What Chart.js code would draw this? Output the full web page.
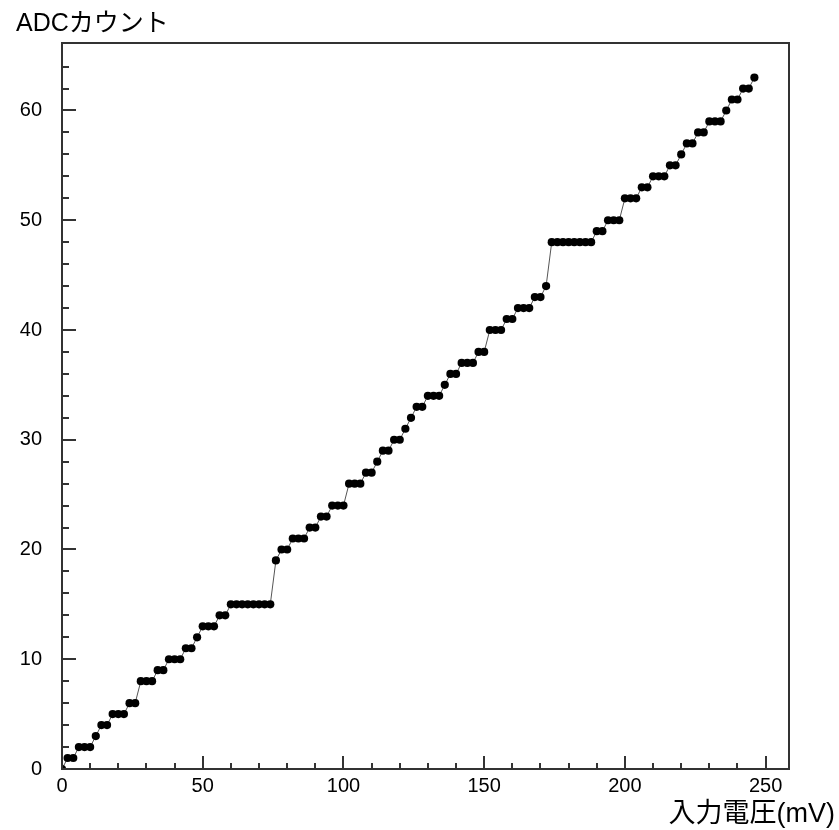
<!DOCTYPE html>
<html>
<head>
<meta charset="utf-8">
<title>ADCカウント</title>
<script src="https://cdn.jsdelivr.net/npm/chart.js@4.4.1/dist/chart.umd.min.js"></script>
<style>
    html, body { margin: 0; padding: 0; background: #fff; }
    #wrap { position: relative; width: 839px; height: 830px; }
</style>
</head>
<body>
<div id="wrap"><canvas id="adc-chart"></canvas></div>
<script>
// Input voltage (mV)
const voltages = [
    0, 2, 4, 6, 8, 10, 12, 14, 16, 18, 20, 22, 24, 26, 28, 30, 32, 34, 36, 38,
    40, 42, 44, 46, 48, 50, 52, 54, 56, 58, 60, 62, 64, 66, 68, 70, 72, 74, 76, 78,
    80, 82, 84, 86, 88, 90, 92, 94, 96, 98, 100, 102, 104, 106, 108, 110, 112, 114, 116, 118,
    120, 122, 124, 126, 128, 130, 132, 134, 136, 138, 140, 142, 144, 146, 148, 150, 152, 154, 156, 158,
    160, 162, 164, 166, 168, 170, 172, 174, 176, 178, 180, 182, 184, 186, 188, 190, 192, 194, 196, 198,
    200, 202, 204, 206, 208, 210, 212, 214, 216, 218, 220, 222, 224, 226, 228, 230, 232, 234, 236, 238,
    240, 242, 244, 246
];

// ADC count read at each voltage
const adcCounts = [
    0, 1, 1, 2, 2, 2, 3, 4, 4, 5, 5, 5, 6, 6, 8, 8, 8, 9, 9, 10,
    10, 10, 11, 11, 12, 13, 13, 13, 14, 14, 15, 15, 15, 15, 15, 15, 15, 15, 19, 20,
    20, 21, 21, 21, 22, 22, 23, 23, 24, 24, 24, 26, 26, 26, 27, 27, 28, 29, 29, 30,
    30, 31, 32, 33, 33, 34, 34, 34, 35, 36, 36, 37, 37, 37, 38, 38, 40, 40, 40, 41,
    41, 42, 42, 42, 43, 43, 44, 48, 48, 48, 48, 48, 48, 48, 48, 49, 49, 50, 50, 50,
    52, 52, 52, 53, 53, 54, 54, 54, 55, 55, 56, 57, 57, 58, 58, 59, 59, 59, 60, 61,
    61, 62, 62, 63
];

const xTickLabels = [0, 50, 100, 150, 200, 250];
const yTickLabels = [0, 10, 20, 30, 40, 50, 60];

const xRange = [0, 258.3];
const yRange = [0, 66.15];

const FONT = "'Liberation Sans', 'Noto Sans CJK JP', sans-serif";
const FRAME_COLOR = '#333';

// frame box + inward tick marks (major and minor)
const frameTicks = {
    id: 'frameTicks',
    afterDatasetsDraw(chart) {
        const { ctx, chartArea: a, scales } = chart;
        ctx.save();
        ctx.strokeStyle = FRAME_COLOR;
        ctx.lineWidth = 2;
        ctx.strokeRect(a.left, a.top, a.right - a.left, a.bottom - a.top);

        ctx.beginPath();
        for (let v = 0; v <= 250; v += 10) {
            const px = Math.round(scales.x.getPixelForValue(v));
            const len = v % 50 === 0 ? 13 : 6;
            ctx.moveTo(px, a.bottom);
            ctx.lineTo(px, a.bottom - len);
        }
        for (let v = 0; v <= 64; v += 2) {
            const py = Math.round(scales.y.getPixelForValue(v));
            const len = v % 10 === 0 ? 14 : 7;
            ctx.moveTo(a.left, py);
            ctx.lineTo(a.left + len, py);
        }
        ctx.stroke();
        ctx.restore();
    }
};

// axis captions
const axisCaptions = {
    id: 'axisCaptions',
    afterDraw(chart) {
        const ctx = chart.ctx;
        ctx.save();
        ctx.fillStyle = '#000';
        ctx.textBaseline = 'alphabetic';
        ctx.font = `25px ${FONT}`;
        ctx.textAlign = 'left';
        ctx.fillText('ADCカウント', 16, 31);
        ctx.font = `27px ${FONT}`;
        ctx.textAlign = 'right';
        ctx.fillText('入力電圧(mV)', 835, 822);
        ctx.restore();
    }
};

function init() {
    const ctx = document.getElementById('adc-chart').getContext('2d');
    new Chart(ctx, {
        type: 'scatter',
        data: {
            datasets: [{
                data: voltages.map((v, i) => ({ x: v, y: adcCounts[i] })),
                showLine: true,
                borderColor: '#555',
                borderWidth: 1,
                pointRadius: 4.1,
                pointBackgroundColor: '#000',
                pointBorderColor: '#000',
                pointBorderWidth: 0,
                clip: 0
            }]
        },
        options: {
            responsive: true,
            maintainAspectRatio: false,
            animation: false,
            layout: { padding: { top: 43, right: 50, left: 0, bottom: 0 } },
            plugins: {
                legend: { display: false },
                tooltip: { enabled: false }
            },
            scales: {
                x: {
                    type: 'linear',
                    min: xRange[0],
                    max: xRange[1],
                    afterBuildTicks: (scale) => { scale.ticks = xTickLabels.map(value => ({ value })); },
                    afterFit: (scale) => { scale.height = 61; },
                    grid: { display: true, drawOnChartArea: false, drawTicks: false },
                    border: { display: false },
                    ticks: {
                        color: '#000',
                        padding: 5,
                        maxRotation: 0,
                        font: { family: FONT, size: 20 }
                    }
                },
                y: {
                    type: 'linear',
                    min: yRange[0],
                    max: yRange[1],
                    afterBuildTicks: (scale) => { scale.ticks = yTickLabels.map(value => ({ value })); },
                    afterFit: (scale) => { scale.width = 62; },
                    grid: { display: true, drawOnChartArea: false, drawTicks: false },
                    border: { display: false },
                    ticks: {
                        color: '#000',
                        padding: 20,
                        font: { family: FONT, size: 20 }
                    }
                }
            }
        },
        plugins: [frameTicks, axisCaptions]
    });
}

init();
</script>
</body>
</html>
